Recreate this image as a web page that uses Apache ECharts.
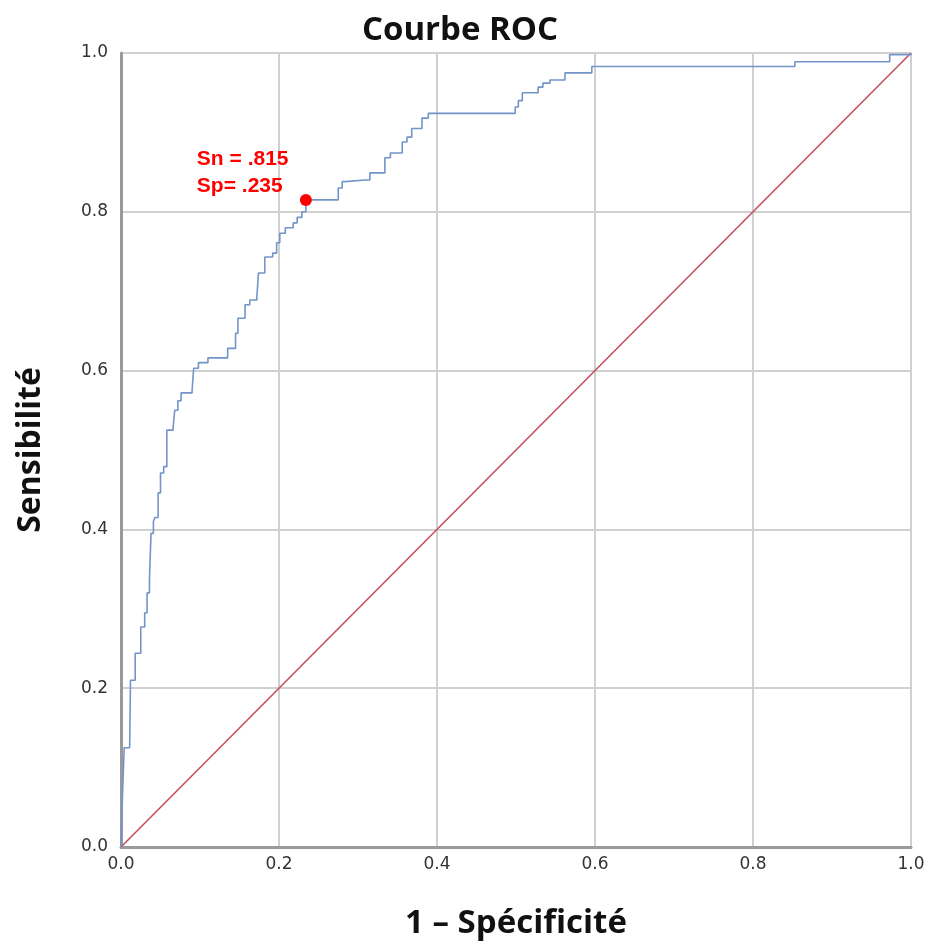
<!DOCTYPE html>
<html lang="fr">
  <head>
    <meta charset="UTF-8" />
    <script src="https://cdn.jsdelivr.net/npm/echarts@6/dist/echarts.min.js"></script>
    <title>Courbe ROC</title>
    <style>
      html, body { margin: 0; background: #fff; }
      #app { width: 933px; height: 947px; }
    </style>
  </head>
  <body>
    <div id="app"></div>
    <script>
      // 1 - spécificité / sensibilité
      const fpr = [0, 0.002, 0.004, 0.011, 0.012, 0.018, 0.025, 0.03, 0.033, 0.036, 0.038, 0.041, 0.043,
        0.047, 0.05, 0.054, 0.058, 0.066, 0.068, 0.072, 0.076, 0.09, 0.092, 0.098, 0.11, 0.135, 0.145,
        0.148, 0.157, 0.163, 0.172, 0.174, 0.182, 0.192, 0.197, 0.201, 0.208, 0.218, 0.223, 0.229, 0.234,
        0.268, 0.275, 0.28, 0.284, 0.309, 0.315, 0.328, 0.334, 0.341, 0.356, 0.362, 0.368, 0.381, 0.389,
        0.495, 0.499, 0.503, 0.508, 0.524, 0.528, 0.534, 0.543, 0.562, 0.585, 0.596, 0.853, 0.973, 1.0];
      const tpr = [0, 0.068, 0.125, 0.128, 0.21, 0.244, 0.277, 0.295, 0.32, 0.336, 0.395, 0.41, 0.415,
        0.446, 0.471, 0.479, 0.525, 0.529, 0.55, 0.562, 0.572, 0.575, 0.603, 0.61, 0.616, 0.628, 0.647,
        0.666, 0.683, 0.689, 0.693, 0.723, 0.743, 0.748, 0.761, 0.773, 0.78, 0.786, 0.793, 0.8, 0.815,
        0.815, 0.83, 0.838, 0.84, 0.84, 0.849, 0.849, 0.868, 0.874, 0.888, 0.894, 0.905, 0.918, 0.924,
        0.924, 0.932, 0.94, 0.95, 0.95, 0.957, 0.962, 0.966, 0.975, 0.975, 0.983, 0.989, 0.998, 1.0];
      const refLine = [[0, 0], [1, 1]];
      const cutPoint = [0.234, 0.815];
      const cutLabel = "Sn = .815\nSp= .235";

      const chart = echarts.init(document.getElementById("app"));

      chart.setOption({
        animation: false,
        title: {
          text: "Courbe ROC",
          left: 455,
          top: 9,
          textAlign: "center",
          textStyle: { fontFamily: "Open Sans", fontWeight: "bold", fontSize: 33, color: "#111" },
        },
        grid: { left: 121, right: 22, top: 53, bottom: 100 },
        xAxis: {
          type: "value",
          min: 0,
          max: 1,
          interval: 0.2,
          name: "1 – Spécificité",
          nameLocation: "middle",
          nameGap: 60,
          nameTextStyle: { fontFamily: "Open Sans", fontWeight: "bold", fontSize: 33, color: "#111" },
          axisLine: { lineStyle: { color: "#9a9a9a", width: 3 } },
          axisTick: { show: false },
          axisLabel: {
            formatter: (v) => v.toFixed(1),
            fontFamily: "DejaVu Sans",
            fontSize: 17,
            color: "#333",
            margin: 9,
          },
          splitLine: { lineStyle: { color: "#d0d0d0", width: 2 } },
        },
        yAxis: {
          type: "value",
          min: 0,
          max: 1,
          interval: 0.2,
          name: "Sensibilité",
          nameLocation: "middle",
          nameGap: 74,
          nameTextStyle: { fontFamily: "Open Sans", fontWeight: "bold", fontSize: 32, color: "#111" },
          axisLine: { show: true, lineStyle: { color: "#9a9a9a", width: 3 } },
          axisTick: { show: false },
          axisLabel: {
            formatter: (v) => v.toFixed(1),
            fontFamily: "DejaVu Sans",
            fontSize: 17,
            color: "#333",
            margin: 13,
          },
          splitLine: { lineStyle: { color: "#d0d0d0", width: 2 } },
        },
        series: [
          {
            name: "Référence",
            type: "line",
            data: refLine,
            symbol: "none",
            lineStyle: { color: "#c4505e", width: 1.6 },
            z: 3,
          },
          {
            name: "ROC",
            type: "line",
            step: "end",
            data: fpr.map((x, i) => [x, tpr[i]]),
            symbol: "none",
            lineStyle: { color: "#7394c9", width: 1.6 },
            z: 4,
          },
          {
            name: "Seuil",
            type: "scatter",
            data: [cutPoint],
            symbolSize: 12,
            itemStyle: { color: "#ff0000", opacity: 1 },
            emphasis: { disabled: true },
            label: {
              show: true,
              formatter: cutLabel,
              position: [-103, -48],
              align: "left",
              fontFamily: "Liberation Sans",
              fontWeight: "bold",
              fontSize: 21,
              lineHeight: 27,
              color: "#ff0000",
            },
            z: 5,
          },
        ],
      });
    </script>
  </body>
</html>
